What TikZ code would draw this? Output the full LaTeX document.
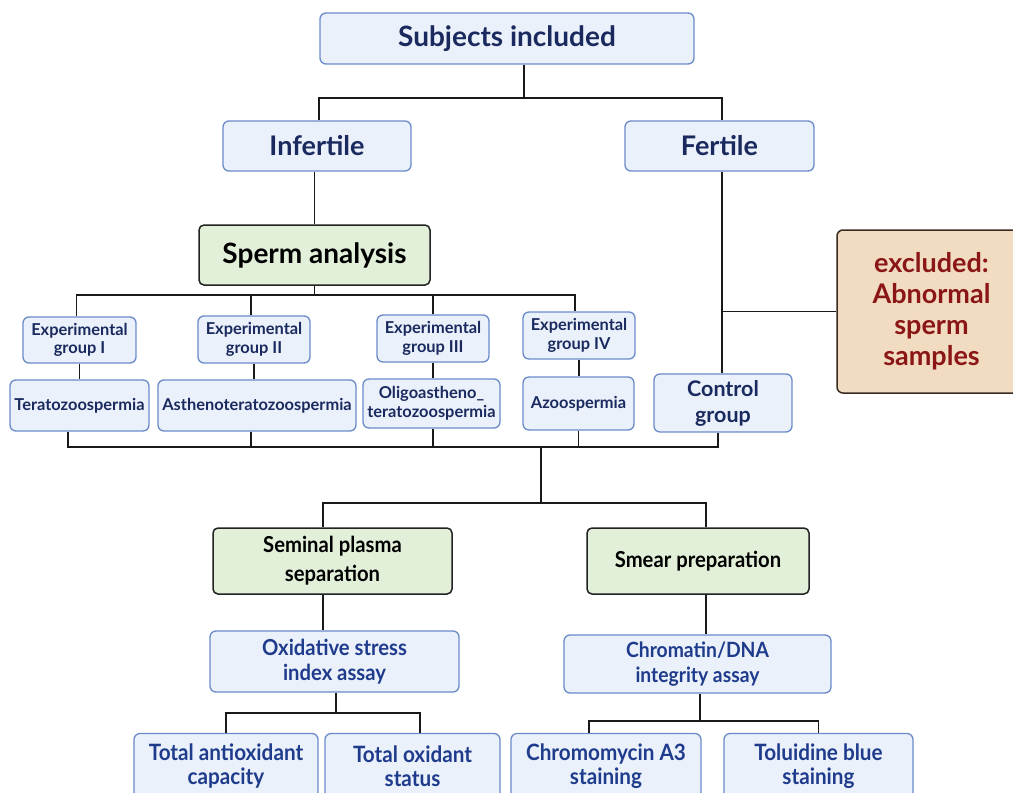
\documentclass[tikz,border=0pt]{standalone}
\usepackage{fontspec}
\setmainfont{Lato}
\newfontfamily\cond[FakeStretch=0.92]{Lato}
\definecolor{bfill}{HTML}{EAF1FB}
\definecolor{bdraw}{HTML}{6A8BC8}
\definecolor{navy}{HTML}{1A2A5E}
\definecolor{bluetxt}{HTML}{1F3B8C}
\definecolor{gfill}{HTML}{E2F0D9}
\definecolor{gdraw}{HTML}{222222}
\definecolor{efill}{HTML}{F1DCC1}
\definecolor{edraw}{HTML}{3B2A20}
\definecolor{etxt}{HTML}{8B1616}
\begin{document}
\begin{tikzpicture}[x=1pt,y=-1pt,
  bbox/.style={draw=bdraw,fill=bfill,line width=1.3pt,rounded corners=6pt,inner sep=0pt,align=center,text=navy,font=\bfseries},
  gbox/.style={draw=gdraw,fill=gfill,line width=1.5pt,rounded corners=5pt,inner sep=0pt,align=center,text=black},
  ebox/.style={draw=edraw,fill=efill,line width=1.5pt,rounded corners=6pt,inner sep=0pt,align=center,text=etxt,font=\bfseries},
  conn/.style={draw=black!90,line width=1.6pt},
  sz/.style n args={2}{minimum width=#1pt,minimum height=#2pt}
]
\useasboundingbox (0,0) rectangle (1013,793);
% top
\node[bbox,sz={374}{51},font=\bfseries\fontsize{28}{32}\selectfont] (subj) at (507,38.5) {Subjects included};
\node[bbox,sz={188}{50},font=\bfseries\fontsize{27}{30}\selectfont] (inf) at (317,146) {Infertile};
\node[bbox,sz={189}{50},font=\bfseries\fontsize{27}{30}\selectfont] (fer) at (719.5,146) {Fertile};
\node[gbox,sz={231}{60},font=\bfseries\fontsize{28}{30}\selectfont] (sperm) at (314.5,255) {Sperm analysis};
% experimental groups
\tikzset{small/.style={font=\bfseries\fontsize{16.4}{18.5}\selectfont}}
\node[bbox,small,sz={113}{46}] (e1) at (79.5,340) {Experimental\\group I};
\node[bbox,small,sz={112}{47}] (e2) at (254,339.5) {Experimental\\group II};
\node[bbox,small,sz={112}{47}] (e3) at (433,338.5) {Experimental\\group III};
\node[bbox,small,sz={112}{47}] (e4) at (579,335.5) {Experimental\\group IV};
\node[bbox,small,sz={139}{51}] (t1) at (79.5,405.5) {Teratozoospermia};
\node[bbox,small,sz={198}{51}] (t2) at (257,405.5) {Asthenoteratozoospermia};
\node[bbox,small,sz={137}{49}] (t3) at (431.5,403.5) {Oligoastheno\_\\teratozoospermia};
\node[bbox,small,sz={111}{53}] (t4) at (578.5,403.5) {Azoospermia};
\node[bbox,sz={138}{58},font=\bfseries\fontsize{21.5}{26}\selectfont] (ctrl) at (723,403) {Control\\group};
\node[ebox,sz={189}{163},font=\bfseries\fontsize{27}{31}\selectfont] (excl) at (931.5,311.5) {excluded:\\Abnormal\\sperm\\samples};
% lower
\tikzset{mid/.style={font=\cond\bfseries\fontsize{22}{29}\selectfont}}
\node[gbox,mid,sz={239}{66}] (sem) at (332.5,561) {Seminal plasma\\separation};
\node[gbox,mid,sz={222}{66}] (smear) at (698,561) {Smear preparation};
\node[bbox,mid,text=bluetxt,sz={249}{61},font=\cond\bfseries\fontsize{22}{25}\selectfont] (ox) at (334.5,661.5) {Oxidative stress\\index assay};
\node[bbox,mid,text=bluetxt,sz={267}{58},font=\cond\bfseries\fontsize{21}{25}\selectfont] (chr) at (697.5,664) {Chromatin/DNA\\integrity assay};
\tikzset{bot/.style={font=\cond\bfseries\fontsize{22.5}{24}\selectfont,text=bluetxt}}
\node[bbox,bot,sz={184}{65}] (tac) at (226,766) {Total antioxidant\\capacity};
\node[bbox,bot,sz={175}{65}] (tos) at (412.5,766) {Total oxidant\\status};
\node[bbox,bot,sz={190}{65}] (cma) at (606,766) {Chromomycin A3\\staining};
\node[bbox,bot,sz={189}{65}] (tol) at (818.5,766) {Toluidine blue\\staining};
% connectors
\coordinate (b1) at (524,98);
\draw[conn] (subj.south -| b1) -- (b1);
\draw[conn] ([xshift=2pt]inf.north) |- (b1) -| ([xshift=2.5pt]fer.north);
\draw[conn] (sperm.north) -- (sperm.north |- inf.south);
\coordinate (b2) at (314.5,295);
\draw[conn] (sperm.south) -- (b2);
\draw[conn] ([xshift=-3pt]e1.north) |- (b2) -| ([xshift=-4pt]e4.north);
\draw[conn] ([xshift=-3pt]e2.north) -- ([xshift=-3pt]e2.north |- b2);
\draw[conn] (e3.north) -- (e3.north |- b2);
\foreach \a/\b in {e1/t1,e2/t2,e3/t3,e4/t4}{
  \draw[conn] (\a.south) -- (\a.south |- \b.north);
}
\draw[conn] ([xshift=-1pt]fer.south -| ctrl.north) -- ([xshift=-1pt]ctrl.north);
\draw[conn] (excl.west) -- ([xshift=-1pt]excl.west -| ctrl.north);
\coordinate (b3) at (541,447);
\draw[conn] ([xshift=-11.5pt]t1.south) |- (b3) -| ([xshift=-5pt]ctrl.south);
\draw[conn] ([xshift=-6pt]t2.south) -- ([xshift=-6pt]t2.south |- b3);
\draw[conn] ([xshift=1.5pt]t3.south) -- ([xshift=1.5pt]t3.south |- b3);
\draw[conn] (t4.south) -- (t4.south |- b3);
\coordinate (b4) at (541,503);
\draw[conn] (b3) -- (b4);
\draw[conn] ([xshift=-9.5pt]sem.north) |- (b4) -| ([xshift=8pt]smear.north);
\draw[conn] ([xshift=-9.5pt]sem.south) -- ([xshift=-9.5pt]sem.south |- ox.north);
\draw[conn] ([xshift=8pt]smear.south) -- ([xshift=8pt]smear.south |- chr.north);
\coordinate (b5) at (336,713);
\draw[conn] (ox.south -| b5) -- (b5);
\draw[conn] (tac.north) |- (b5) -| ([xshift=7.5pt]tos.north);
\coordinate (b6) at (700,721);
\draw[conn] (chr.south -| b6) -- (b6);
\draw[conn] ([xshift=-17pt]cma.north) |- (b6) -| (tol.north);
\end{tikzpicture}
\end{document}
